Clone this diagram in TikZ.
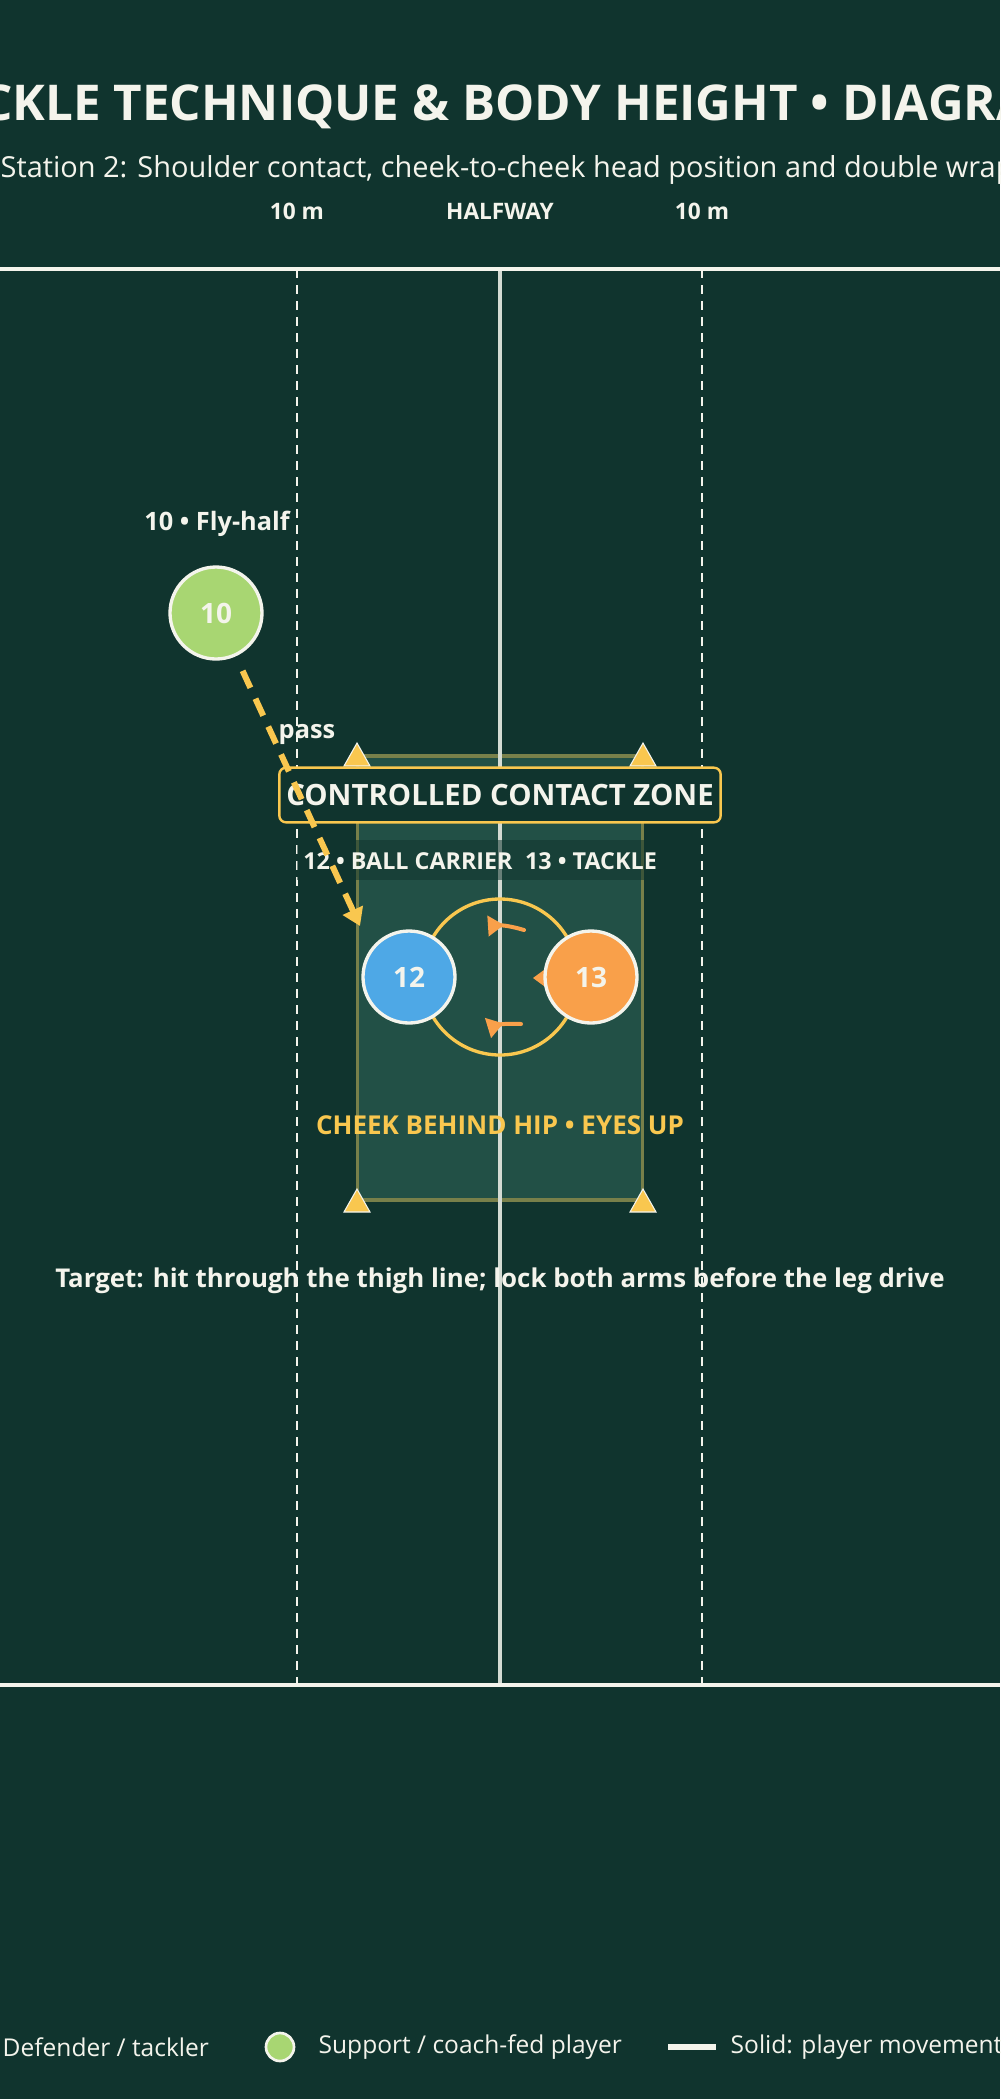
\documentclass[tikz,border=0pt]{standalone}
\usepackage{fontspec}
\setmainfont{Open Sans}
\usetikzlibrary{arrows.meta}
\usetikzlibrary{positioning}
\definecolor{pitch}{RGB}{16,52,46}
\definecolor{zonefill}{RGB}{34,80,70}
\definecolor{chalk}{RGB}{244,244,236}
\definecolor{gold}{RGB}{249,199,79}
\definecolor{carrier}{RGB}{78,168,230}
\definecolor{tackler}{RGB}{249,160,74}
\definecolor{support}{RGB}{168,214,114}
\tikzset {
  % field markings
  touch line/.style = {
    draw = chalk,
    line width = 3pt
  },
  ten line/.style = {
    draw = chalk,
    line width = 1.5pt,
    dash pattern = on 7pt off 5pt
  },
  half line/.style = {
    draw = chalk!85!zonefill,
    line width = 2.5pt
  },
  mark label/.style = {
    text = chalk,
    font = \fontsize{17}{20}\selectfont\bfseries
  }
}
\tikzset {
  player/.style = {
    draw = chalk,
    circle,
    line width = 2.5pt,
    minimum size = 69pt,
    inner sep = 0,
    text = chalk,
    font = \fontsize{21}{24}\selectfont\bfseries
  },
  cone/.style = {
    fill = gold,
    draw = chalk,
    line width = 0.8pt
  },
  % short orange cue arrows
  cue/.style = {
    draw = tackler,
    line width = 3pt,
    line cap = round,
    -{Triangle[reversed, length=12pt, width=15pt]}
  },
  node distance = 0.5cm
}
\begin{document}
\begin{tikzpicture}[x=0.75pt, y=-0.75pt]
    \fill[pitch] (0,0) rectangle (1000,2099);
    \clip (0,0) rectangle (1000,2099);

    % headings
    \node[text = chalk, font = \fontsize{37}{44}\selectfont\bfseries] (title) at (500,107)
      {TACKLE TECHNIQUE \& BODY HEIGHT • DIAGRAM};
    \node[anchor = west, text = chalk, font = \fontsize{21.7}{26}\selectfont] (subtitle) at (-4,170)
      {Station 2: Shoulder contact, cheek-to-cheek head position and double wrap};
    \node[mark label] (ten left) at (297,211) {10 m};
    \node[mark label] (halfway) at (500,211) {HALFWAY};
    \node[mark label] (ten right) at (702,211) {10 m};

    % field
    \coordinate (tl) at (0,269);
    \coordinate (tr) at (1000,269);
    \coordinate (bl) at (0,1685);
    \coordinate (br) at (1000,1685);
    \draw[ten line] (297,269) -- (297,1685);
    \draw[ten line] (702,269) -- (702,1685);

    % contact zone
    \node[fill = zonefill, draw = gold!40!zonefill, line width = 2.5pt,
      minimum width = 214pt, minimum height = 333pt] (zone) at (500,978) {};
    \draw[half line] (500,269) -- (500,1685);
    \draw[touch line] (tl) -- (tr);
    \draw[touch line] (bl) -- (br);

    \foreach \cx/\cy in {357/755, 643/755, 357/1201, 643/1201} {
      \fill[cone] (\cx-13,\cy+11) -- (\cx+13,\cy+11) -- (\cx,\cy-12) -- cycle;
    }

    \node[fill = pitch, draw = gold, line width = 1.8pt, rounded corners = 5pt,
      minimum width = 331pt, minimum height = 41pt] (zone box) at (500,795) {};
    \node[text = chalk, font = \fontsize{22}{26}\selectfont\bfseries] (zone label) at (zone box)
      {CONTROLLED CONTACT ZONE};

    \fill[pitch, opacity = 0.55] (297,840) rectangle (647,880);
    \node[mark label, font = \fontsize{17.5}{20}\selectfont\bfseries] (carrier label) at (408,861) {12 • BALL CARRIER};
    \node[mark label, font = \fontsize{17.5}{20}\selectfont\bfseries] (tackler label) at (591,861) {13 • TACKLE};

    % contact ring
    \node[draw = gold, circle, line width = 2.5pt, minimum size = 117pt] (ring) at (500,977) {};
    \draw[cue] (524,930) to[bend right = 10] (488,926);
    \draw[cue] (521,1024) to[bend right = 10] (488,1028);

    \fill[carrier] (455,978) -- (440,967) -- (440,989) -- cycle;
    \fill[tackler] (533,978) -- (548,967) -- (548,989) -- cycle;
    \node[player, fill = carrier] (p12) at (409,977) {12};
    \node[player, fill = tackler] (p13) at (591,977) {13};

    \node[text = gold, font = \fontsize{19.5}{23}\selectfont\bfseries] (cue label) at (500,1125)
      {CHEEK BEHIND HIP • EYES UP};

    % fly-half and pass
    \node[player, fill = support] (p10) at (216,613) {10};
    \node[mark label, font = \fontsize{19}{22}\selectfont\bfseries] (p10 label) at (217,524) {10 • Fly-half};
    \coordinate (catch) at (360,926);
    \draw[draw = gold, line width = 4.5pt, dash pattern = on 14pt off 9pt,
      shorten < = 12pt, -{Triangle[length=13pt,width=16pt]}] (p10) -- (catch);
    \node[mark label, font = \fontsize{19}{22}\selectfont\bfseries] (pass label) at (307,734) {pass};

    \node[text = chalk, font = \fontsize{19.4}{23}\selectfont\bfseries] (target) at (500,1281)
      {Target: hit through the thigh line; lock both arms before the leg drive};

    % legend
    \node[anchor = west, text = chalk, font = \fontsize{18.4}{22}\selectfont] (leg def) at (-2,2047) {Defender / tackler};
    \node[draw = chalk, fill = support, circle, line width = 2pt, minimum size = 21pt, inner sep = 0] (leg dot) at (280,2047) {};
    \node[anchor = west, text = chalk, font = \fontsize{18.4}{22}\selectfont] (leg sup) at (314,2047) {Support / coach-fed player};
    \coordinate (leg a) at (668,2047);
    \coordinate (leg b) at (716,2047);
    \draw[draw = chalk, line width = 4.5pt] (leg a) -- (leg b);
    \node[anchor = west, text = chalk, font = \fontsize{18.4}{22}\selectfont] (leg sol) at (726,2047) {Solid: player movement};
\end{tikzpicture}
\end{document}
